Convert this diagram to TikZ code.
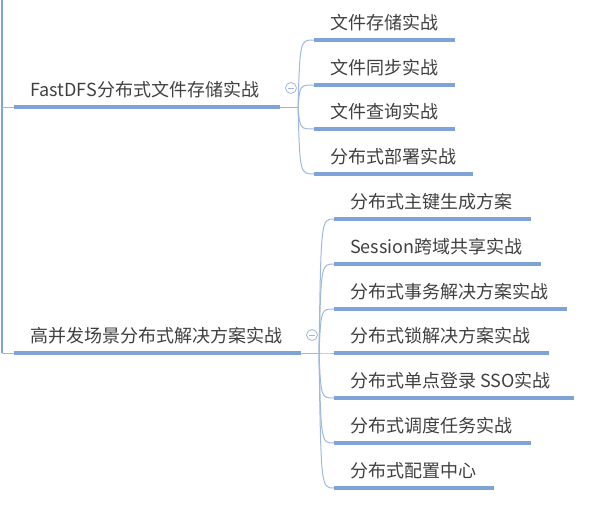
\documentclass[tikz,border=0pt]{standalone}
\usepackage{fontspec}
\setmainfont{Noto Sans CJK SC}
\usetikzlibrary{calc}
\definecolor{ulc}{HTML}{7FA3D6}
\definecolor{thinc}{HTML}{9FB8DE}
\definecolor{txtc}{HTML}{404040}
\begin{document}
\begin{tikzpicture}[x=1pt,y=-1pt,
  lbl/.style={anchor=base west, inner sep=0pt, font=\fontsize{18}{18}\selectfont, text=txtc},
  uline/.style={draw=ulc, line width=3.6pt},
  conn/.style={draw=thinc, line width=1pt},
  fold/.style={circle, draw=thinc, minimum size=11pt, inner sep=0pt, line width=0.8pt}]
\useasboundingbox (0,0) rectangle (597,509);
% root spine
\coordinate (top) at (1.5,0);
\coordinate (j1) at (1.5,107);
\coordinate (j2) at (1.5,353);
\draw[draw=ulc, line width=2pt] (top) -- (j2);
% main 1
\coordinate (m1s) at (14,107);
\coordinate (m1e) at (280,107);
\coordinate (b1) at (298,107);
\draw[conn] (j1) -- (m1s);
\draw[uline] (m1s) -- (m1e);
\draw[conn] (m1e) -- (b1);
\node[lbl] (m1) at (30,96) {FastDFS分布式文件存储实战};
\node[fold] (f1) at (291,88) {};
\draw[thinc, line width=0.8pt] ([xshift=-3pt]f1.center) -- ([xshift=3pt]f1.center);
% main 2
\coordinate (m2s) at (14,353);
\coordinate (m2e) at (301,353);
\coordinate (b2) at (319,353);
\draw[conn] (j2) -- (m2s);
\draw[uline] (m2s) -- (m2e);
\draw[conn] (m2e) -- (b2);
\node[lbl] (m2) at (30,342) {高并发场景分布式解决方案实战};
\node[fold] (f2) at (312,335) {};
\draw[thinc, line width=0.8pt] ([xshift=-3pt]f2.center) -- ([xshift=3pt]f2.center);
% children of main 1
\foreach \n/\y/\e/\t in {a/40/455/文件存储实战, b/85/455/文件同步实战, c/129/455/文件查询实战, d/174/473/分布式部署实战}{
  \coordinate (c\n s) at (314,\y);
  \coordinate (c\n e) at (\e,\y);
  \draw[uline] (c\n s) -- (c\n e);
  \node[lbl] (t\n) at (330,\y-11) {\t};
  \draw[conn] (b1) .. controls (300,\y) .. (c\n s);
}
% children of main 2
\foreach \n/\y/\e/\t in {p/219/531/分布式主键生成方案, q/264/541/Session跨域共享实战, r/309/567/分布式事务解决方案实战, s/353/549/分布式锁解决方案实战, u/398/574/分布式单点登录 SSO实战, v/443/531/分布式调度任务实战, w/488/494/分布式配置中心}{
  \coordinate (c\n s) at (334,\y);
  \coordinate (c\n e) at (\e,\y);
  \draw[uline] (c\n s) -- (c\n e);
  \node[lbl] (t\n) at (350,\y-11) {\t};
  \draw[conn] (b2) .. controls (321,\y) .. (c\n s);
}
\end{tikzpicture}
\end{document}
